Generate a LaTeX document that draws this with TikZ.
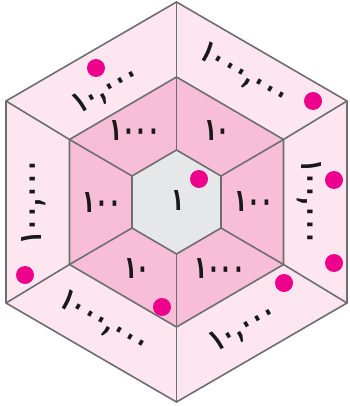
\documentclass[tikz,border=0pt]{standalone}
\usepackage{fontspec}
\newfontfamily\arabicfont[Script=Arabic]{DejaVu Sans}
\definecolor{outerpink}{HTML}{FDE6F0}
\definecolor{midpink}{HTML}{F8BED8}
\definecolor{innergrey}{HTML}{E6E7E8}
\definecolor{edgegrey}{HTML}{6D6E71}
\definecolor{dotmagenta}{HTML}{EC008C}
\tikzset{
  edge/.style={draw=edgegrey, line width=1.6pt},
  dot/.style={circle, fill=dotmagenta, inner sep=0pt, minimum size=18pt},
  num/.style={font=\arabicfont\bfseries\fontsize{21}{21}\selectfont, inner sep=0pt, text=black!90}
}
\begin{document}
\begin{tikzpicture}[x=1pt,y=-1pt]
\useasboundingbox (0,0) rectangle (349,406);
% outer
\coordinate (OT) at (176.5,2);
\coordinate (OUR) at (347,101);
\coordinate (OLR) at (347,303);
\coordinate (OB) at (176.5,402);
\coordinate (OLL) at (6,303);
\coordinate (OUL) at (6,101);
% middle
\coordinate (MT) at (176.5,77);
\coordinate (MUR) at (283.5,139.5);
\coordinate (MLR) at (283.5,264.5);
\coordinate (MB) at (176.5,327);
\coordinate (MLL) at (69.5,264.5);
\coordinate (MUL) at (69.5,139.5);
% inner
\coordinate (IT) at (176.5,150);
\coordinate (IUR) at (221,176);
\coordinate (ILR) at (221,228);
\coordinate (IB) at (176.5,254);
\coordinate (ILL) at (132,228);
\coordinate (IUL) at (132,176);
% fills
\fill[outerpink] (OT) -- (OUR) -- (OLR) -- (OB) -- (OLL) -- (OUL) -- cycle;
\fill[midpink] (MT) -- (MUR) -- (MLR) -- (MB) -- (MLL) -- (MUL) -- cycle;
\fill[innergrey] (IT) -- (IUR) -- (ILR) -- (IB) -- (ILL) -- (IUL) -- cycle;
% outlines
\draw[edge] (OT) -- (OUR) -- (OLR) -- (OB) -- (OLL) -- (OUL) -- cycle;
\draw[edge] (MT) -- (MUR) -- (MLR) -- (MB) -- (MLL) -- (MUL) -- cycle;
\draw[edge] (IT) -- (IUR) -- (ILR) -- (IB) -- (ILL) -- (IUL) -- cycle;
% radial dividers
\draw[edge] (OT) -- (MT) -- (IT);
\draw[edge] (OUR) -- (MUR) -- (IUR);
\draw[edge] (OLR) -- (MLR) -- (ILR);
\draw[edge] (OB) -- (MB) -- (IB);
\draw[edge] (OLL) -- (MLL) -- (ILL);
\draw[edge] (OUL) -- (MUL) -- (IUL);
% centre
\node[num, yscale=1.5] (c1) at (178,201) {١};
% middle ring
\node[num, yscale=1.5] (m1) at (135,131) {١٠٠٠};
\node[num, yscale=1.5] (m2) at (217,131) {١٠};
\node[num, yscale=1.5] (m3) at (254,202) {١٠٠};
\node[num, yscale=1.5] (m4) at (220,268) {١٠٠٠};
\node[num, yscale=1.5] (m5) at (137,268) {١٠};
\node[num, yscale=1.5] (m6) at (102,203) {١٠٠};
% outer ring
\node[num, rotate=30, yscale=1.5] (o1) at (107,90) {١٠,٠٠٠};
\node[num, rotate=-30, yscale=1.5] (o2) at (244,75) {١٠٠٠,٠٠٠};
\node[num, rotate=-90, yscale=1.5] (o3) at (309,202) {١٠٠,٠٠٠};
\node[num, rotate=30, yscale=1.5] (o4) at (244,328) {١٠,٠٠٠};
\node[num, rotate=-30, yscale=1.5] (o5) at (104,323) {١٠٠٠,٠٠٠};
\node[num, rotate=90, yscale=1.5] (o6) at (34,202) {١٠٠,٠٠٠};
% dots
\node[dot] (d1) at (96,68) {};
\node[dot] (d2) at (313,101) {};
\node[dot] (d3) at (334,180) {};
\node[dot] (d4) at (334,263) {};
\node[dot] (d5) at (284,283) {};
\node[dot] (d6) at (162,307) {};
\node[dot] (d7) at (25,275) {};
\node[dot] (d8) at (199,179) {};
\end{tikzpicture}
\end{document}
